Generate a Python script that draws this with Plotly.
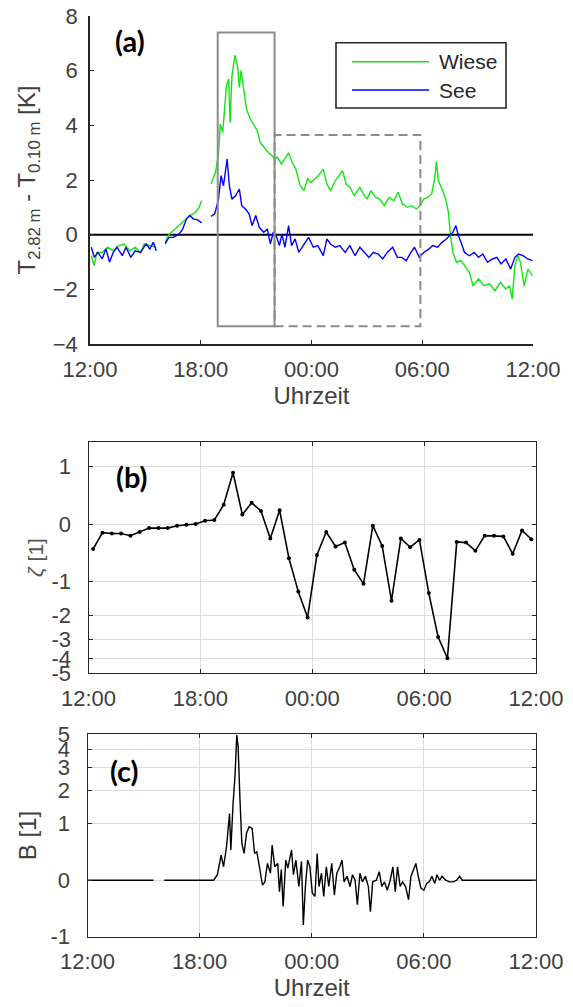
import math
import plotly.graph_objects as go

# ---------------- data ----------------
# hours after 12:00 (0 = 12:00, 24 = 12:00 next day)
tick_hours = [0, 6, 12, 18, 24]
tick_text = ["12:00", "18:00", "00:00", "06:00", "12:00"]

wiese_h = [0.07, 0.23, 0.37, 0.66, 0.96, 1.26, 1.56, 1.85, 2.15, 2.45, 2.74, 2.94, 3.24, 3.59, None,
           4.07, 4.27, 4.52, 4.82, 5.12, 5.41, 5.71, 5.91, 6.05, None,
           6.56, 6.80, 6.96, 7.06, 7.19, 7.39, 7.51, 7.59, 7.69, 7.85, 7.99, 8.09, 8.18, 8.34, 8.48,
           8.68, 8.88, 9.07, 9.21, 9.41, 9.67, 9.87, 10.00, 10.16, 10.36, 10.56, 10.76, 10.95, 11.15,
           11.39, 11.59, 11.79, 11.98, 12.18, 12.38, 12.64, 12.83, 13.03, 13.29, 13.49, 13.68, 13.88,
           14.08, 14.32, 14.62, 14.81, 15.01, 15.21, 15.47, 15.70, 15.94, 16.20, 16.46, 16.69, 16.93,
           17.19, 17.44, 17.68, 17.88, 18.08, 18.32, 18.51, 18.67, 18.77, 18.87, 19.07, 19.27, 19.42,
           19.52, 19.66, 19.86, 20.10, 20.29, 20.55, 20.75, 21.05, 21.34, 21.64, 21.94, 22.23, 22.53,
           22.73, 22.87, 23.02, 23.18, 23.32, 23.52, 23.72, 23.97]
wiese_v = [-0.77, -1.13, -0.65, -0.65, -0.46, -0.59, -0.40, -0.34, -0.59, -0.46, -0.65, -0.34, -0.40, -0.46, None,
           -0.28, 0.0, 0.15, 0.33, 0.51, 0.70, 0.82, 1.0, 1.24, None,
           1.85, 2.28, 2.95, 4.05, 3.74, 5.45, 5.70, 4.10, 5.80, 6.57, 6.18, 5.39, 6.00, 5.20, 4.60,
           4.23, 3.99, 3.80, 3.38, 3.20, 3.00, 2.89, 2.77, 2.83, 2.59, 2.77, 3.00, 2.65, 2.40,
           1.79, 1.61, 2.04, 1.91, 2.04, 2.16, 2.40, 1.85, 1.61, 1.98, 2.16, 2.34, 1.85,
           1.73, 1.43, 1.73, 1.49, 1.30, 1.61, 1.37, 1.30, 1.06, 1.37, 1.24, 1.55, 1.12,
           1.00, 1.06, 0.94, 1.06, 1.30, 1.37, 1.49, 2.04, 2.68, 1.98, 1.67, 1.30, 0.82,
           0.02, -0.65, -1.01, -0.95, -1.13, -1.38, -1.87, -1.62, -1.87, -1.80, -2.05, -1.74, -1.99,
           -1.87, -2.35, -1.13, -0.77, -1.01, -1.87, -1.26, -1.50]

see_h = [0.07, 0.23, 0.43, 0.66, 0.86, 1.06, 1.26, 1.46, 1.75, 1.95, 2.21, 2.45, 2.74, 3.04, 3.24, 3.43, 3.59, None,
         4.07, 4.27, 4.52, 4.82, 5.02, 5.22, 5.41, 5.61, 5.81, 6.05, None,
         6.56, 6.76, 6.96, 7.10, 7.23, 7.35, 7.43, 7.55, 7.69, 7.89, 8.09, 8.22, 8.42, 8.62, 8.78,
         8.98, 9.17, 9.41, 9.61, 9.77, 9.93, 10.12, 10.26, 10.40, 10.56, 10.76, 10.92, 11.11, 11.31,
         11.55, 11.84, 12.10, 12.34, 12.64, 12.83, 13.03, 13.29, 13.53, 13.82, 14.08, 14.36, 14.62,
         14.87, 15.11, 15.35, 15.61, 15.86, 16.10, 16.40, 16.65, 16.89, 17.13, 17.39, 17.58, 17.84,
         18.08, 18.37, 18.57, 18.83, 19.07, 19.31, 19.50, 19.66, 19.82, 19.96, 20.10, 20.29, 20.55,
         20.81, 21.05, 21.28, 21.54, 21.80, 22.04, 22.27, 22.53, 22.79, 23.02, 23.22, 23.46, 23.72, 23.97]
see_v = [-0.46, -0.83, -0.65, -0.89, -0.52, -1.00, -0.65, -0.46, -0.77, -0.46, -0.83, -0.59, -0.65, -0.34, -0.52, -0.28, -0.59, None,
         -0.34, -0.10, -0.10, 0.02, 0.20, 0.57, 0.70, 0.57, 0.55, 0.43, None,
         0.67, 0.76, 1.30, 2.16, 1.79, 2.52, 2.77, 1.79, 1.30, 1.43, 1.67, 1.06, 0.94, 0.76, 0.33,
         0.70, 0.27, 0.09, 0.21, -0.34, 0.09, -0.10, -0.40, 0.02, -0.46, 0.33, -0.40, -0.16, -0.65,
         -0.40, -0.10, -0.46, -0.40, -0.77, -0.16, -0.34, -0.46, -0.40, -0.65, -0.40, -0.77, -0.46,
         -0.65, -0.83, -0.65, -0.71, -0.89, -0.65, -0.46, -0.83, -0.83, -0.95, -0.65, -0.46, -0.83,
         -0.65, -0.52, -0.40, -0.46, -0.28, -0.16, -0.04, 0.09, 0.33, -0.04, -0.28, -0.65, -0.77,
         -0.65, -0.83, -0.71, -1.01, -0.89, -0.83, -1.07, -0.89, -1.26, -0.83, -0.71, -0.77, -0.89, -0.95]

zeta_h = [0.25, 0.75, 1.25, 1.75, 2.25, 2.75, 3.25, 3.75, 4.25, 4.75, 5.25, 5.75,
          6.25, 6.75, 7.25, 7.75, 8.25, 8.75, 9.25, 9.75, 10.25, 10.75, 11.25, 11.75,
          12.25, 12.75, 13.25, 13.75, 14.25, 14.75, 15.25, 15.75, 16.25, 16.75, 17.25, 17.75,
          18.25, 18.75, 19.25, 19.75, 20.25, 20.75, 21.25, 21.75, 22.25, 22.75, 23.25, 23.75]
zeta_v = [-0.35, -0.11, -0.12, -0.12, -0.15, -0.10, -0.05, -0.05, -0.05, -0.02, -0.01, 0.0,
          0.04, 0.05, 0.26, 0.85, 0.12, 0.29, 0.17, -0.19, 0.18, -0.51, -1.25, -2.07,
          -0.45, -0.10, -0.31, -0.25, -0.73, -1.05, -0.02, -0.30, -1.51, -0.19, -0.32, -0.21,
          -1.29, -2.88, -4.01, -0.24, -0.25, -0.38, -0.15, -0.15, -0.16, -0.43, -0.08, -0.20]

b_h = [0.0, 3.53, None, 4.11, 6.75, 6.95, 7.15, 7.28, 7.44, 7.60, 7.67, 7.79, 7.89, 7.99, 8.06, 8.16,
       8.26, 8.38, 8.51, 8.65, 8.81, 8.94, 9.06, 9.20, 9.36, 9.49, 9.63, 9.79, 9.88, 10.02, 10.18,
       10.27, 10.37, 10.47, 10.61, 10.72, 10.82, 10.92, 11.02, 11.15, 11.31, 11.45, 11.55, 11.66,
       11.78, 11.90, 12.03, 12.17, 12.29, 12.39, 12.52, 12.64, 12.78, 12.91, 13.07, 13.21, 13.34,
       13.50, 13.62, 13.73, 13.89, 14.05, 14.18, 14.32, 14.44, 14.58, 14.71, 14.87, 15.03, 15.14,
       15.26, 15.46, 15.61, 15.75, 15.89, 16.04, 16.20, 16.34, 16.47, 16.59, 16.73, 16.86, 17.02,
       17.18, 17.31, 17.45, 17.57, 17.70, 17.84, 18.00, 18.15, 18.29, 18.43, 18.58, 18.70, 18.84,
       18.97, 19.17, 19.37, 19.56, 19.76, 19.91, 20.05, 24.0]
b_v = [0.0, 0.0, None, 0.0, 0.0, 0.07, 0.36, 0.18, 0.51, 1.27, 0.45, 1.57, 2.56, 4.94, 4.15, 1.68,
       0.57, 0.39, 0.78, 0.93, 0.89, 0.39, 0.42, 0.18, -0.06, -0.02, 0.23, 0.09, 0.54, 0.18, 0.23,
       -0.15, 0.14, -0.38, 0.28, 0.16, 0.31, 0.45, 0.07, 0.28, -0.08, 0.26, -0.73, -0.08,
       0.28, 0.18, -0.17, -0.22, 0.39, -0.08, 0.09, -0.22, 0.18, -0.08, 0.23, -0.20, 0.09,
       0.18, 0.28, -0.02, 0.05, -0.08, 0.07, 0.0, -0.35, 0.09, -0.02, 0.05, -0.08, -0.47,
       -0.02, 0.0, 0.11, -0.08, -0.02, -0.13, 0.0, 0.18, -0.15, 0.18, -0.08, -0.02, -0.08,
       -0.27, 0.05, 0.14, 0.23, 0.05, -0.10, -0.13, -0.04, -0.02, 0.05, -0.04, 0.07, 0.0,
       0.05, 0.0, -0.02, -0.02, 0.0, 0.05, 0.0, 0.0]

zeta_ticks = [1, 0, -1, -2, -3, -4, -5]
b_ticks = [5, 4, 3, 2, 1, 0, -1]
a_ticks = [-4, -2, 0, 2, 4, 6, 8]


def slog(v):
    """signed log scale used on the zeta and B axes"""
    if v is None:
        return None
    return math.copysign(math.log1p(abs(v)), v)


# ---------------- figure ----------------
W, H = 573, 1007
FONT = "Liberation Sans, Arial, sans-serif"
AX = "#262626"
TXT = "#404040"
GRID = "#dcdcdc"

fig = go.Figure()
fig.add_trace(go.Scatter(x=wiese_h, y=wiese_v, mode="lines", name="Wiese",
                         line=dict(color="#12e612", width=1.4), connectgaps=False,
                         showlegend=False, xaxis="x", yaxis="y"))
fig.add_trace(go.Scatter(x=see_h, y=see_v, mode="lines", name="See",
                         line=dict(color="#0000ff", width=1.4), connectgaps=False,
                         showlegend=False, xaxis="x", yaxis="y"))
fig.add_trace(go.Scatter(x=zeta_h, y=[slog(v) for v in zeta_v], mode="lines+markers",
                         line=dict(color="black", width=1.6), marker=dict(size=4, color="black"),
                         showlegend=False, xaxis="x2", yaxis="y2"))
fig.add_trace(go.Scatter(x=b_h, y=[slog(v) for v in b_v], mode="lines",
                         line=dict(color="black", width=1.4), connectgaps=False,
                         showlegend=False, xaxis="x3", yaxis="y3"))


def px_x(p):
    return p / W


def px_y(p):
    return 1 - p / H


common_x = dict(range=[0, 24], tickvals=tick_hours, ticktext=tick_text, ticks="inside",
                ticklen=4, tickcolor=AX, linecolor=AX, showline=True, zeroline=False,
                automargin=False, tickfont=dict(family=FONT, size=22, color=TXT))
common_y = dict(ticks="inside", ticklen=4, tickcolor=AX, linecolor=AX, showline=True,
                zeroline=False, automargin=False, tickfont=dict(family=FONT, size=22, color=TXT))

fig.update_layout(
    width=W, height=H, margin=dict(l=0, r=0, t=0, b=0, pad=0, autoexpand=False),
    paper_bgcolor="white", plot_bgcolor="white",
    xaxis=dict(common_x, domain=[px_x(90), px_x(533)], anchor="y", showgrid=False, linewidth=1.6,
               ticklabelstandoff=5,
               title=dict(text="Uhrzeit", font=dict(family=FONT, size=24, color=TXT), standoff=0)),
    yaxis=dict(common_y, domain=[px_y(344), px_y(16)], anchor="x", range=[-4, 8], tickvals=a_ticks,
               showgrid=False, linewidth=1.6, ticklabelstandoff=6,
               title=dict(text="T<sub>2.82 m</sub> - T<sub>0.10 m</sub> [K]",
                          font=dict(family=FONT, size=24, color=TXT), standoff=10)),
    xaxis2=dict(common_x, domain=[px_x(88.5), px_x(536)], anchor="y2", showgrid=True, gridcolor=GRID,
                mirror="ticks", linewidth=1.3, ticklabelstandoff=5),
    yaxis2=dict(common_y, domain=[px_y(673.3), px_y(441.7)], anchor="x2",
                range=[slog(-5), 0.988], tickvals=[slog(v) for v in zeta_ticks],
                ticktext=[str(v) for v in zeta_ticks], showgrid=True, gridcolor=GRID,
                mirror="ticks", linewidth=1.3, ticklabelstandoff=12,
                title=dict(text="<i>ζ</i> [1]", font=dict(family=FONT, size=21, color="#555555"),
                           standoff=2)),
    xaxis3=dict(common_x, domain=[px_x(87.5), px_x(536)], anchor="y3", showgrid=True, gridcolor=GRID,
                mirror="ticks", linewidth=1.3, ticklabelstandoff=5,
                title=dict(text="Uhrzeit", font=dict(family=FONT, size=24, color=TXT), standoff=5)),
    yaxis3=dict(common_y, domain=[px_y(936.7), px_y(734.3)], anchor="x3",
                range=[slog(-1), slog(5)], tickvals=[slog(v) for v in b_ticks],
                ticktext=[str(v) for v in b_ticks], showgrid=True, gridcolor=GRID,
                mirror="ticks", linewidth=1.3, ticklabelstandoff=12,
                title=dict(text="B [1]", font=dict(family=FONT, size=24, color=TXT), standoff=6)),
)

shapes = []
# zero line of panel (a)
shapes.append(dict(type="line", xref="x domain", yref="y", x0=0, x1=1, y0=0, y1=0,
                   line=dict(color="black", width=2), layer="below"))
# dashed box (22:00 - 06:00)
shapes.append(dict(type="rect", xref="x", yref="y", x0=10.0, x1=17.9, y0=-3.35, y1=3.65,
                   line=dict(color="#8c8c8c", width=2, dash="9px,5px")))
# solid box (19:00 - 22:00)
shapes.append(dict(type="rect", xref="x", yref="y", x0=6.92, x1=10.0, y0=-3.35, y1=7.4,
                   line=dict(color="#8c8c8c", width=2)))
# legend box and samples
shapes.append(dict(type="rect", xref="paper", yref="paper", x0=px_x(336), x1=px_x(506),
                   y0=px_y(108), y1=px_y(42.7), line=dict(color=AX, width=1.6),
                   fillcolor="white"))
shapes.append(dict(type="line", xref="paper", yref="paper", x0=px_x(352), x1=px_x(429),
                   y0=px_y(61.7), y1=px_y(61.7), line=dict(color="#12e612", width=1.6)))
shapes.append(dict(type="line", xref="paper", yref="paper", x0=px_x(352), x1=px_x(429),
                   y0=px_y(90), y1=px_y(90), line=dict(color="#0000ff", width=1.6)))
fig.update_layout(shapes=shapes)

ann = []
for name, ypx in (("Wiese", 61.7), ("See", 90)):
    ann.append(dict(text=name, xref="paper", yref="paper", x=px_x(437), y=px_y(ypx),
                    xanchor="left", yanchor="middle", showarrow=False,
                    font=dict(family=FONT, size=21, color=AX)))
for lab, cx, cy in (("(a)", 129.5, 40), ("(b)", 131.5, 476), ("(c)", 124, 770)):
    ann.append(dict(text="<b>" + lab + "</b>", xref="paper", yref="paper", x=px_x(cx), y=px_y(cy),
                    xanchor="center", yanchor="middle", showarrow=False,
                    font=dict(family="Lato, Open Sans, sans-serif", size=29, color="black")))
fig.update_layout(annotations=ann)

fig.write_html("out.html")
